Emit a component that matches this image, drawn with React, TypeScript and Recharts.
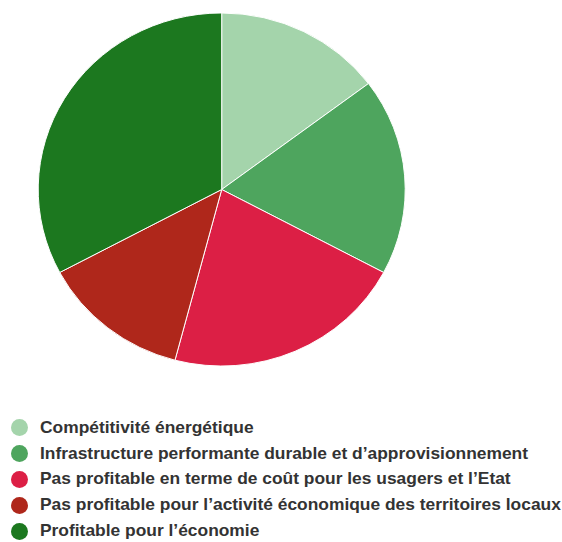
import { Pie, PieChart, Cell } from "recharts";

const categories = [
  "Compétitivité énergétique",
  "Infrastructure performante durable et d\u2019approvisionnement",
  "Pas profitable en terme de coût pour les usagers et l\u2019Etat",
  "Pas profitable pour l\u2019activité économique des territoires locaux",
  "Profitable pour l\u2019économie",
];
const values = [9, 11, 13, 8, 20];
const colors = ["#a4d4ab", "#4ea55e", "#dc1f45", "#af271b", "#1c781f"];

const data = categories.map((name, i) => ({ name, value: values[i] }));

const CX = 221.7;
const CY = 189.5;

function LegendList() {
  return (
    <ul style={{ listStyle: "none", margin: 0, padding: 0 }}>
      {categories.map((c, i) => (
        <li
          key={c}
          style={{ display: "flex", alignItems: "center", height: 25.8, whiteSpace: "nowrap" }}
        >
          <span
            style={{
              display: "inline-block",
              width: 17,
              height: 17,
              borderRadius: "50%",
              background: colors[i],
              marginLeft: 10.5,
              marginRight: 12,
              flex: "none",
            }}
          />
          <span
            style={{
              display: "inline-block",
              fontWeight: "bold",
              fontSize: 16.6,
              color: "#333",
              transform: "scaleX(1.048)",
              transformOrigin: "0 50%",
            }}
          >
            {c}
          </span>
        </li>
      ))}
    </ul>
  );
}

export default function App() {
  return (
    <div
      style={{
        position: "absolute",
        left: 0,
        top: 0,
        width: 562,
        height: 542,
        background: "#fff",
        overflow: "hidden",
        fontFamily: "'Liberation Sans', Arial, sans-serif",
      }}
    >
      <style>{`.pie-squash { transform: scaleY(0.962); transform-origin: ${CX}px ${CY}px; }`}</style>
      <div className="pie-squash" style={{ position: "absolute", left: 0, top: 0 }}>
        <PieChart width={562} height={400} margin={{ top: 0, right: 0, bottom: 0, left: 0 }}>
          <Pie
            data={data}
            dataKey="value"
            nameKey="name"
            cx={CX}
            cy={CY}
            outerRadius={183.5}
            startAngle={90}
            endAngle={-270}
            stroke="#fff"
            strokeWidth={1}
            isAnimationActive={false}
          >
            {data.map((d, i) => (
              <Cell key={d.name} fill={colors[i]} />
            ))}
          </Pie>
        </PieChart>
      </div>
      <div style={{ position: "absolute", left: 0, top: 415, width: 562 }}>
        <LegendList />
      </div>
    </div>
  );
}
